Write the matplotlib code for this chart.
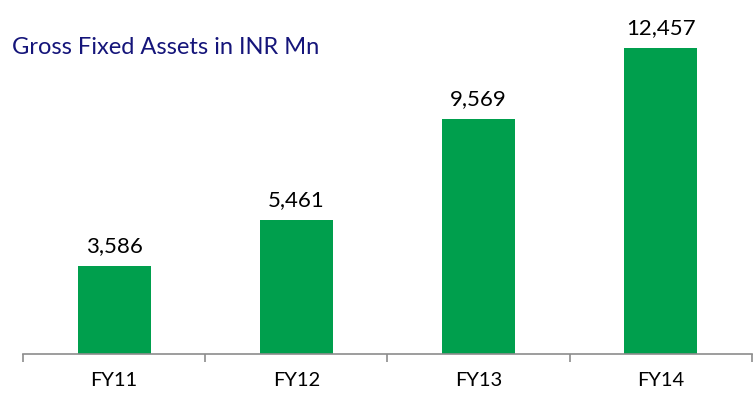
import matplotlib.pyplot as plt

years = ["FY11", "FY12", "FY13", "FY14"]
gross_fixed_assets = [3586, 5461, 9569, 12457]

bar_color = "#009F4D"
title_color = "#15157A"

plt.rcParams["font.family"] = ["Lato", "DejaVu Sans"]

fig = plt.figure(figsize=(7.53, 4.0), dpi=100)
ax = fig.add_axes([0.0305, 0.115, 0.968, 0.885])

x = range(len(years))
bars = ax.bar(x, gross_fixed_assets, width=0.4, color=bar_color)
ax.set_xlim(-0.5, len(years) - 0.5)
ax.set_ylim(0, 14400)

for rect, v in zip(bars, gross_fixed_assets):
    ax.annotate(f"{v:,}", (rect.get_x() + rect.get_width() / 2, v),
                xytext=(0, 7), textcoords="offset points",
                ha="center", va="bottom", fontsize=16, color="black")

for side in ["top", "right", "left"]:
    ax.spines[side].set_visible(False)
ax.spines["bottom"].set_color("#8C8C8C")
ax.spines["bottom"].set_linewidth(1.2)

ax.set_yticks([])
ax.set_xticks([i - 0.5 for i in range(len(years) + 1)], minor=False)
ax.set_xticklabels([])
ax.tick_params(axis="x", which="major", length=6, color="#8C8C8C", width=1.2)
ax.set_xticks(list(x), minor=True)
ax.set_xticklabels(years, minor=True, fontsize=14.5)
ax.tick_params(axis="x", which="minor", length=0, pad=13)

fig.text(0.016, 0.88, "Gross Fixed Assets in INR Mn", color=title_color,
         fontsize=17, ha="left", va="center")

fig.savefig("out.png", dpi=100)
